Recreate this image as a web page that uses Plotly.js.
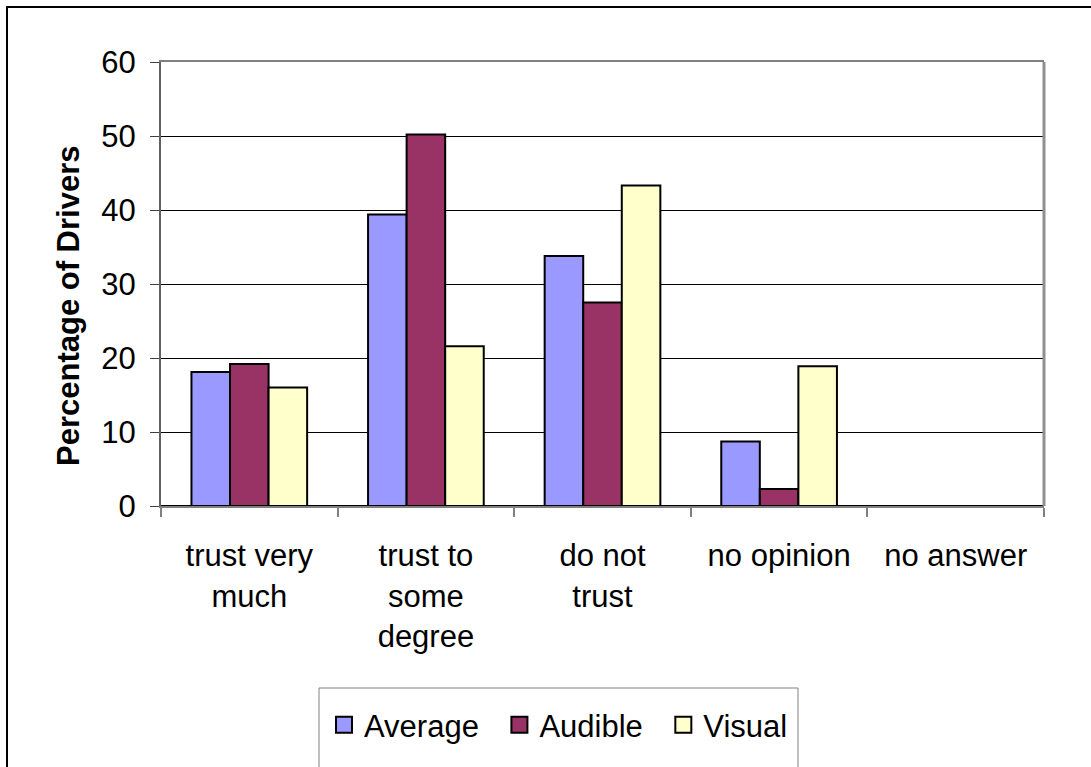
<!DOCTYPE html>
<html><head><meta charset="utf-8">
<script src="https://cdn.plot.ly/plotly-3.0.1.min.js"></script>
<style>html,body{margin:0;padding:0;background:#fff;overflow:hidden}
#frame{position:absolute;left:6px;top:6px;width:1200px;height:900px;border:2px solid #000;box-sizing:border-box}
#chart{position:absolute;left:0;top:0;width:1091px;height:767px}
</style></head><body><div id="frame"></div><div id="chart"></div>
<script>
const categories = ['trust very<br>much', 'trust to<br>some<br>degree', 'do not<br>trust', 'no opinion', 'no answer'];
const seriesNames = ['Average', 'Audible', 'Visual'];
const average = [18.1, 39.4, 33.8, 8.7, 0];
const audible = [19.2, 50.2, 27.5, 2.3, 0];
const visual = [16.0, 21.6, 43.3, 18.9, 0];
const seriesColors = ['#9999FF', '#993366', '#FFFFCC'];
const yTickVals = [0, 10, 20, 30, 40, 50, 60];
const yTitle = 'Percentage of Drivers';

const values = [average, audible, visual];
const FONT = 'Liberation Sans, Arial, sans-serif';
const traces = [];
values.forEach((v, i) => {
  traces.push({type: 'bar', x: categories, y: v, name: seriesNames[i], showlegend: false,
    marker: {color: seriesColors[i], line: {color: '#000', width: 2}}, hoverinfo: 'skip'});
});
values.forEach((v, i) => {
  const pad = i < values.length - 1 ? '\u2002' : '';
  traces.push({type: 'scatter', mode: 'markers', x: [null], y: [null], name: seriesNames[i] + pad,
    marker: {symbol: 'square', size: 16, color: seriesColors[i], line: {color: '#000', width: 2}}});
});

const L = 161, R = 1044, T = 62, B = 506, W = 1091, H = 767;
const px2x = p => (p - L) / (R - L);
const py2y = p => (B - p) / (B - T);

const layout = {
  width: W, height: H,
  margin: {l: L, r: W - R, t: T, b: H - B, pad: 0},
  paper_bgcolor: 'rgba(0,0,0,0)', plot_bgcolor: '#fff',
  font: {family: FONT, size: 31, color: '#000'},
  barmode: 'group', bargap: 0.345, bargroupgap: 0,
  xaxis: {type: 'category', showline: true, linecolor: '#808080', linewidth: 2, mirror: true,
    ticks: 'outside', tickson: 'boundaries', ticklen: 9, tickcolor: '#808080', tickwidth: 2,
    showgrid: false, tickfont: {size: 31, family: FONT}, ticklabelstandoff: 21, fixedrange: true},
  yaxis: {range: [0, 60], tickvals: yTickVals, showline: true, linecolor: '#606060', linewidth: 2,
    ticks: 'outside', ticklen: 9, tickcolor: '#404040', tickwidth: 1,
    showgrid: true, gridcolor: '#000', gridwidth: 1, zeroline: true, zerolinecolor: '#000', zerolinewidth: 2,
    tickfont: {size: 31, family: FONT}, ticklabelstandoff: 8, fixedrange: true},
  showlegend: true,
  legend: {orientation: 'h', x: px2x(324), xanchor: 'left', y: py2y(698), yanchor: 'top',
    font: {size: 31, family: FONT}, bgcolor: 'rgba(0,0,0,0)', borderwidth: 0, itemsizing: 'trace'},
  shapes: [
    {type: 'line', xref: 'paper', yref: 'paper', x0: 1, x1: 1, y0: 0, y1: 1, line: {color: '#909090', width: 3}},
    {type: 'rect', xref: 'paper', yref: 'paper', x0: px2x(319), x1: px2x(798), y0: py2y(688), y1: py2y(800),
      line: {color: '#808080', width: 1}}
  ],
  annotations: [
    {text: '<b>' + yTitle + '</b>', xref: 'paper', yref: 'paper', x: px2x(68), y: py2y(306),
      xanchor: 'center', yanchor: 'middle', textangle: -90, showarrow: false,
      font: {size: 31, family: FONT, color: '#000'}}
  ]
};
Plotly.newPlot('chart', traces, layout, {displayModeBar: false, staticPlot: true});
</script></body></html>
